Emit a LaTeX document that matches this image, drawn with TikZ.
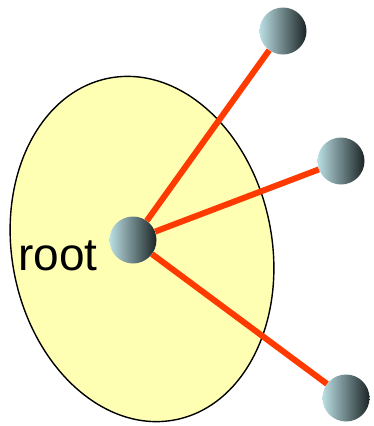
\documentclass[tikz,border=0pt]{standalone}
\usepackage{fontspec}
\setmainfont{Liberation Sans}
\usepackage{tikz}
\definecolor{RTYellow}{HTML}{FFFFB4}
\definecolor{RTRed}{HTML}{FF3A00}
\definecolor{RTLight}{HTML}{BADFE3}
\definecolor{RTDark}{HTML}{1C2426}
\tikzset{
  ball/.style={circle,minimum size=47pt,inner sep=0pt,left color=RTLight,right color=RTDark},
  edge/.style={RTRed,line width=6pt}
}

\begin{document}
\begin{tikzpicture}[x=1pt,y=-1pt]
\path[use as bounding box] (0,0) rectangle (374,426);
\coordinate (centre) at (142,249);
\draw[fill=RTYellow,line width=1.4pt,rotate around={11:(centre)}] (centre) ellipse [x radius=130, y radius=174];
\node[ball] (root) at (133,240) {};
\node[ball] (top) at (283,31) {};
\node[ball] (mid) at (341,161) {};
\node[ball] (low) at (346,398) {};
\draw[edge] (root) -- (top);
\draw[edge] (root) -- (mid);
\draw[edge] (root) -- (low);
\node[anchor=base west,inner sep=0pt,font=\fontsize{46}{55}\selectfont] (rootlbl) at (18,270) {root};
\end{tikzpicture}
\end{document}
